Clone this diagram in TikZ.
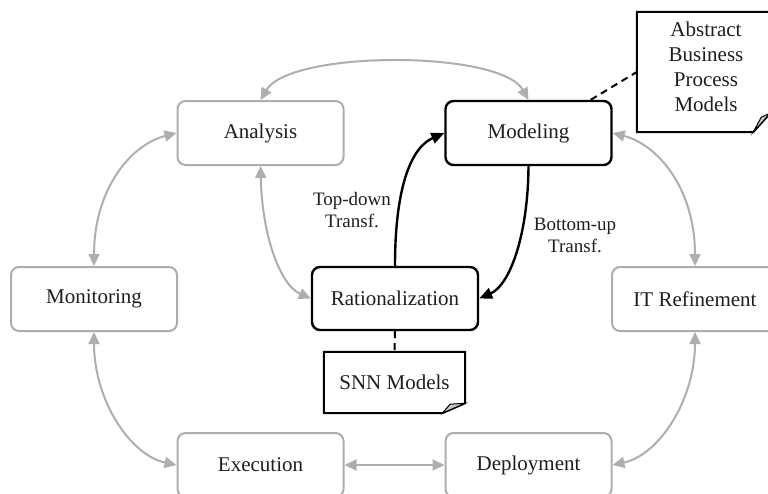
\documentclass[tikz,border=0pt]{standalone}
\usepackage{fontspec}
\setmainfont{Liberation Serif}
\usetikzlibrary{arrows.meta}
\definecolor{boxgray}{HTML}{AEAEAE}
\definecolor{txt}{HTML}{1E1E1E}
\begin{document}
\begin{tikzpicture}[x=1pt,y=-1pt,
 base/.style={rounded corners=8pt, minimum height=64pt, minimum width=166pt, inner sep=0pt, font=\fontsize{21}{25}\selectfont, text=txt},
 stagebox/.style={base, draw=boxgray, line width=2pt},
 keybox/.style={base, draw=black, line width=2.4pt},
 flow/.style={draw=boxgray, line width=2pt, {Triangle[length=12pt,width=11pt]}-{Triangle[length=12pt,width=11pt]}},
 transf/.style={draw=black, line width=2.4pt, -{Triangle[length=13pt,width=11pt]}},
 link/.style={draw=black, line width=2pt, dash pattern=on 7pt off 5pt},
 notebox/.style={inner sep=0pt, font=\fontsize{21}{25}\selectfont, text=txt, align=center},
 notebody/.style={draw=black, line width=2pt, line join=miter},
 foldtri/.style={fill=gray!45, draw=black, line width=1pt},
 lbl/.style={font=\fontsize{19}{22}\selectfont, align=center, text=txt}
]
\useasboundingbox (0,0) rectangle (768,493);

% stage boxes
\node[stagebox] (ana) at (260.5,133) {Analysis};
\node[keybox] (mod) at (528.5,133) {Modeling};
\node[keybox, minimum height=63pt] (rat) at (395,298.5) {Rationalization};
\node[stagebox] (mon) at (94,299) {Monitoring};
\node[stagebox] (itr) at (695,299) {IT Refinement};
\node[stagebox] (exe) at (260.5,465) {Execution};
\node[stagebox] (dep) at (528.5,465) {Deployment};

% grey life-cycle connectors
\draw[flow] (ana.north) .. controls (290,50) and (500,50) .. (mod.north);
\draw[flow] (mon.north) .. controls (94,190) and (130,145) .. (ana.west);
\draw[flow] (mon.south) .. controls (94,400) and (130,455) .. (exe.west);
\draw[flow] (exe.east) -- (dep.west);
\draw[flow] (itr.north) .. controls (695,190) and (659,145) .. (mod.east);
\draw[flow] (itr.south) .. controls (695,400) and (659,455) .. (dep.east);
\draw[flow] (ana.south) .. controls (262,235) and (280,285) .. (rat.west);

% transformations
\draw[transf] (rat.north) .. controls (395,190) and (410,148) .. (mod.west);
\draw[transf] (mod.south) .. controls (528,235) and (510,285) .. (rat.east);
\node[lbl] (td) at (352,210) {Top-down\\Transf.};
\node[lbl] (bu) at (575,235) {Bottom-up\\Transf.};

% SNN note
\node[notebox, minimum width=141pt, minimum height=61pt] (snn) at (394.5,382.5) {SNN Models};
\draw[notebody] (snn.north west) -- (snn.north east) -- ([yshift=10pt]snn.south east) -- ([xshift=-23pt]snn.south east) -- (snn.south west) -- cycle;
\filldraw[foldtri] ([xshift=-23pt]snn.south east) -- ([yshift=10pt]snn.south east) -- ([xshift=-15pt,yshift=9pt]snn.south east) -- cycle;
\draw[link] (rat.south) -- (snn.north);

% Abstract note
\node[notebox, minimum width=133pt, minimum height=120pt] (abs) at (703.5,72) {};
\node[notebox] (abstxt) at (706,67) {Abstract\\Business\\Process\\Models};
\draw[notebody] (abs.north west) -- (abs.north east) -- ([yshift=19pt]abs.south east) -- ([xshift=-17pt]abs.south east) -- (abs.south west) -- cycle;
\filldraw[foldtri] ([xshift=-17pt]abs.south east) -- ([yshift=19pt]abs.south east) -- ([xshift=-9pt,yshift=15pt]abs.south east) -- cycle;
\coordinate (modcorner) at ([xshift=-22pt]mod.north east);
\draw[link] (modcorner) -- (abs.west);
\end{tikzpicture}
\end{document}
